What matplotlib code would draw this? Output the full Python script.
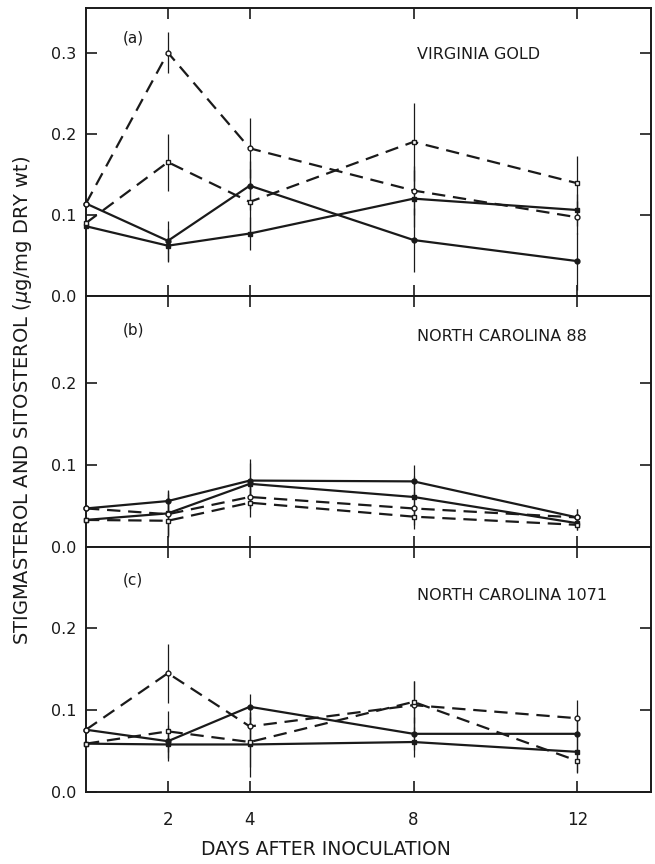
import matplotlib
matplotlib.use("Agg")
import matplotlib.pyplot as plt

days = [0, 2, 4, 8, 12]
panel_labels = ["(a)", "(b)", "(c)"]
cultivars = ["VIRGINIA GOLD", "NORTH CAROLINA 88", "NORTH CAROLINA 1071"]

# panel (a) Virginia Gold
a_solid1 = [0.114, 0.068, 0.136, 0.069, 0.043]
a_solid2 = [0.086, 0.062, 0.077, 0.120, 0.106]
a_dash1 = [0.114, 0.300, 0.182, 0.130, 0.097]
a_dash2 = [0.090, 0.165, 0.116, 0.190, 0.139]
a_err_solid1 = [0, 0.025, 0.030, 0.040, 0.035]
a_err_solid2 = [0, 0.020, 0.020, 0.035, 0.020]
a_err_dash1 = [0, 0.025, 0.037, 0.030, 0.020]
a_err_dash2 = [0, 0.035, 0.040, 0.048, 0.033]

# panel (b) North Carolina 88
b_solid1 = [0.047, 0.056, 0.081, 0.080, 0.036]
b_solid2 = [0.033, 0.041, 0.077, 0.061, 0.029]
b_dash1 = [0.047, 0.040, 0.061, 0.047, 0.036]
b_dash2 = [0.033, 0.032, 0.054, 0.037, 0.027]
b_err_solid1 = [0, 0.012, 0.022, 0.020, 0.010]
b_err_solid2 = [0, 0.028, 0.030, 0.025, 0.008]
b_err_dash1 = [0, 0.025, 0.015, 0.020, 0.010]
b_err_dash2 = [0, 0.020, 0.018, 0.015, 0.006]

# panel (c) North Carolina 1071
c_solid1 = [0.076, 0.062, 0.104, 0.071, 0.071]
c_solid2 = [0.059, 0.058, 0.058, 0.061, 0.049]
c_dash1 = [0.076, 0.145, 0.080, 0.106, 0.090]
c_dash2 = [0.059, 0.074, 0.061, 0.110, 0.038]
c_err_solid1 = [0, 0.020, 0.016, 0.020, 0.020]
c_err_solid2 = [0, 0.020, 0.040, 0.018, 0.025]
c_err_dash1 = [0, 0.036, 0.018, 0.030, 0.022]
c_err_dash2 = [0, 0.025, 0.030, 0.026, 0.015]

panels = [
    (a_solid1, a_solid2, a_dash1, a_dash2,
     a_err_solid1, a_err_solid2, a_err_dash1, a_err_dash2, 0.355, [0.0, 0.1, 0.2, 0.3]),
    (b_solid1, b_solid2, b_dash1, b_dash2,
     b_err_solid1, b_err_solid2, b_err_dash1, b_err_dash2, 0.306, [0.0, 0.1, 0.2]),
    (c_solid1, c_solid2, c_dash1, c_dash2,
     c_err_solid1, c_err_solid2, c_err_dash1, c_err_dash2, 0.299, [0.0, 0.1, 0.2]),
]

fig = plt.figure(figsize=(6.55, 8.64), dpi=100)
rects = [
    [86 / 655, 1 - 296 / 864, 565 / 655, 288 / 864],
    [86 / 655, 1 - 547 / 864, 565 / 655, 251 / 864],
    [86 / 655, 1 - 792 / 864, 565 / 655, 245 / 864],
]
label_y = [0.896, 0.865, 0.865]
name_y = [0.837, 0.837, 0.804]

ink = "#1a1a1a"
dash = (0, (6, 3.5))
for i, (s1, s2, d1, d2, e1, e2, e3, e4, ymax, yticks) in enumerate(panels):
    ax = fig.add_axes(rects[i])
    series = [
        (s1, e1, "-", "o", ink),
        (s2, e2, "-", "s", ink),
        (d1, e3, dash, "o", "white"),
        (d2, e4, dash, "s", "white"),
    ]
    for y, err, ls, mk, face in series:
        ax.errorbar(days, y, yerr=err, fmt="none", ecolor=ink, elinewidth=0.9,
                    capsize=0, zorder=2)
        ax.plot(days, y, color=ink, linestyle=ls, linewidth=1.6, marker=mk,
                markersize=3.5, markerfacecolor=face, markeredgecolor=ink,
                markeredgewidth=1.0, zorder=3, clip_on=False)

    ax.set_xlim(0, 13.8)
    ax.set_ylim(0, ymax)
    ax.set_xticks([2, 4, 8, 12])
    ax.set_yticks(yticks)
    ax.set_yticklabels([f"{t:.1f}" for t in yticks])
    ax.tick_params(direction="in", length=8, width=1.2, top=True, right=True,
                   labelsize=11.5, colors=ink, pad=7)
    if i < 2:
        ax.tick_params(labelbottom=False)
    else:
        ax.tick_params(axis="x", labelbottom=True, pad=14, labelsize=12)
    for sp in ax.spines.values():
        sp.set_linewidth(1.4)
        sp.set_color(ink)

    ax.text(0.065, label_y[i], panel_labels[i], transform=ax.transAxes, fontsize=11,
            color=ink, va="center", ha="left")
    ax.text(0.585, name_y[i], cultivars[i], transform=ax.transAxes,
            fontsize=11.5, color=ink, va="center", ha="left")

    if i == 2:
        ax.set_xlabel("DAYS AFTER INOCULATION", fontsize=13.5, color=ink)
        ax.xaxis.set_label_coords(0.425, -0.195)

fig.text(0.034, 1 - 400 / 864, "STIGMASTEROL AND SITOSTEROL ($\\mu$g/mg DRY wt)",
         rotation=90, va="center", ha="center", fontsize=14, color=ink)

fig.savefig("out.png", dpi=100)
